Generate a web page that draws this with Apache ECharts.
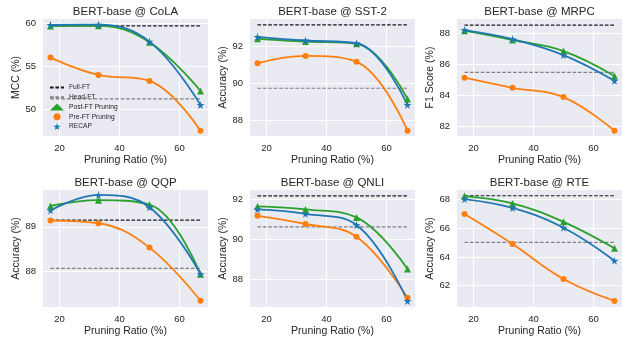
<!DOCTYPE html>
<html><head><meta charset="utf-8">
<script src="https://cdn.jsdelivr.net/npm/echarts@6/dist/echarts.min.js"></script>
<style>html,body{margin:0;padding:0;background:#fff}#c{width:623px;height:339px}</style>
</head><body><div id="c"></div>
<script>
const ratios = [17, 33, 50, 67];
const tasks = ['CoLA', 'SST-2', 'MRPC', 'QQP', 'QNLI', 'RTE'];
const yNames = ['MCC (%)', 'Accuracy (%)', 'F1 Score (%)', 'Accuracy (%)', 'Accuracy (%)', 'Accuracy (%)'];
const postFT = [[59.68, 59.7, 57.8, 52.1], [92.42, 92.27, 92.15, 89.15], [88.17, 87.57, 86.86, 85.26], [89.47, 89.6, 89.5, 87.93], [91.65, 91.5, 91.1, 88.52], [68.23, 67.72, 66.44, 64.6]];
const preFT = [[56.0, 53.97, 53.27, 47.47], [91.09, 91.49, 91.17, 87.42], [85.15, 84.5, 83.9, 81.74], [89.14, 89.08, 88.53, 87.33], [91.18, 90.77, 90.13, 87.08], [66.98, 64.9, 62.47, 60.94]];
const recap = [[59.8, 59.84, 57.86, 50.47], [92.53, 92.33, 92.18, 88.82], [88.21, 87.63, 86.6, 84.95], [89.37, 89.72, 89.44, 87.93], [91.5, 91.28, 90.72, 86.92], [68.02, 67.4, 66.03, 63.74]];
const fullFT = [59.7, 93.18, 88.53, 89.15, 92.18, 68.25];
const headFT = [51.17, 89.73, 85.49, 88.06, 90.63, 65.01];
const xTicks = [20, 40, 60];
const yTicks = [[50, 55, 60], [88, 90, 92], [82, 84, 86, 88], [88, 89], [88, 90, 92], [62, 64, 66, 68]];
const yRange = [[46.85, 60.5], [87.13, 93.5], [81.4, 88.92], [87.19, 89.83], [86.62, 92.47], [60.52, 68.65]];

const FONT = "'Liberation Sans', Arial, sans-serif";
const TXT = '#262626';
const lefts = [43, 250, 457], tops = [19, 190], W = 165, H = 117;
const STAR = 'path://M50,0 L61,35 L98,35 L68,57 L79,91 L50,70 L21,91 L32,57 L2,35 L39,35 Z';
const C = { post: '#2ca02c', pre: '#ff7f0e', recap: '#1f77b4' };

const grids = [], xAxes = [], yAxes = [], series = [], graphics = [];
tasks.forEach((t, i) => {
  const L = lefts[i % 3], T = tops[Math.floor(i / 3)];
  grids.push({ left: L, top: T, width: W, height: H, show: true, backgroundColor: '#EAEAF2', borderWidth: 0 });
  xAxes.push({
    gridIndex: i, type: 'value', min: 14.5, max: 69.5,
    name: 'Pruning Ratio (%)', nameLocation: 'middle', nameGap: 19,
    nameTextStyle: { fontFamily: FONT, fontSize: 10.5, color: TXT },
    axisLine: { show: false }, axisTick: { show: false, customValues: xTicks },
    axisLabel: { customValues: xTicks, fontFamily: FONT, fontSize: 9.5, color: TXT, margin: 7 },
    splitLine: { show: true, lineStyle: { color: '#fff', width: 1 } }
  });
  yAxes.push({
    gridIndex: i, type: 'value', min: yRange[i][0], max: yRange[i][1],
    name: yNames[i], nameLocation: 'middle', nameGap: 20, nameRotate: 90,
    nameTextStyle: { fontFamily: FONT, fontSize: 10.5, color: TXT },
    axisLine: { show: false }, axisTick: { show: false, customValues: yTicks[i] },
    axisLabel: { customValues: yTicks[i], fontFamily: FONT, fontSize: 9.5, color: TXT, margin: 7 },
    splitLine: { show: true, lineStyle: { color: '#fff', width: 1 } }
  });
  graphics.push({ type: 'text', x: L + W / 2, y: T - 7.5, style: { text: 'BERT-base @ ' + t, font: '11.5px ' + FONT, fill: TXT, align: 'center', verticalAlign: 'middle' } });
  const ax = { xAxisIndex: i, yAxisIndex: i };
  const x0 = ratios[0], x1 = ratios[ratios.length - 1];
  series.push(Object.assign({ type: 'line', name: 'Full-FT', data: [[x0, fullFT[i]], [x1, fullFT[i]]], symbol: 'none', symbolSize: 0, lineStyle: { color: '#1a1a1a', width: 1.2, type: [3.6, 1.8] }, itemStyle: { color: '#1a1a1a' }, z: 2 }, ax));
  series.push(Object.assign({ type: 'line', name: 'Head-FT', data: [[x0, headFT[i]], [x1, headFT[i]]], symbol: 'none', symbolSize: 0, lineStyle: { color: '#808080', width: 1.2, type: [3.6, 1.8] }, itemStyle: { color: '#808080' }, z: 2 }, ax));
  const groups = [['Post-FT Pruning', postFT[i], C.post, 'triangle', 7], ['Pre-FT Pruning', preFT[i], C.pre, 'circle', 6], ['RECAP', recap[i], C.recap, STAR, 8]];
  groups.forEach(([nm, vals, col, sym, sz], k) => {
    const d = ratios.map((r, j) => [r, vals[j]]);
    series.push(Object.assign({ type: 'line', name: nm + ' curve', data: d, smooth: 0.4, symbol: 'none', lineStyle: { color: col, width: 1.8 }, itemStyle: { color: col }, z: 3 + k }, ax));
  });
  groups.forEach(([nm, vals, col, sym, sz], k) => {
    const d = ratios.map((r, j) => [r, vals[j]]);
    series.push(Object.assign({ type: 'scatter', name: nm, data: d, symbol: sym, symbolSize: sz, itemStyle: { color: col, opacity: 1 }, z: 6 + k }, ax));
  });
});

const chart = echarts.init(document.getElementById('c'), null, { renderer: 'canvas' });
chart.setOption({
  animation: false,
  backgroundColor: '#fff',
  grid: grids, xAxis: xAxes, yAxis: yAxes, series: series,
  graphic: graphics,
  legend: {
    data: [
      { name: 'Full-FT', itemStyle: { opacity: 0 } },
      { name: 'Head-FT', itemStyle: { opacity: 0 } },
      'Post-FT Pruning', 'Pre-FT Pruning', 'RECAP'
    ],
    orient: 'vertical', left: 49, top: 84, itemWidth: 14, itemHeight: 7, itemGap: 2.75, itemTextGap: 5,
    padding: 0, textStyle: { fontFamily: FONT, fontSize: 6.7, color: TXT }
  }
});
</script></body></html>
